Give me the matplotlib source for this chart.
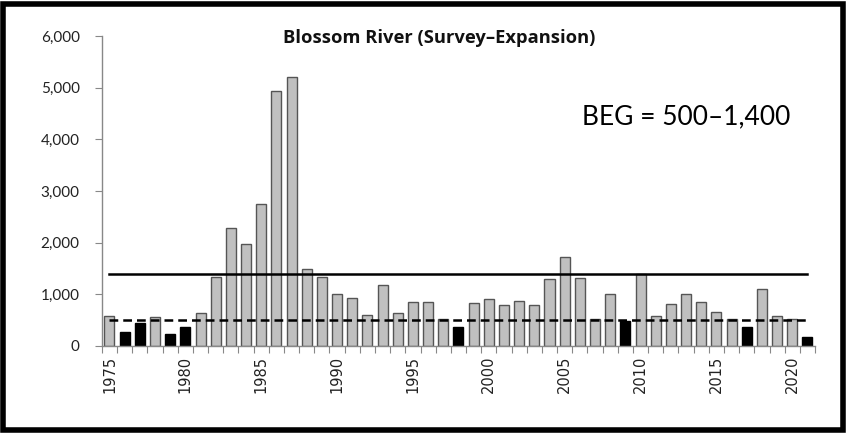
import matplotlib
matplotlib.use('Agg')
import matplotlib.pyplot as plt
from matplotlib.patches import Rectangle

years = list(range(1975, 2022))
counts = [586, 277, 451, 567, 226, 362, 632, 1340, 2282, 1967,
          2752, 4932, 5209, 1495, 1335, 1000, 934, 593, 1180, 632,
          845, 857, 522, 374, 825, 903, 793, 870, 793, 1290,
          1721, 1315, 529, 1000, 490, 1400, 586, 806, 1000, 851,
          652, 529, 361, 1097, 580, 522, 180]
beg_low = 500
beg_high = 1400
title = 'Blossom River (Survey\u2013Expansion)'
beg_text = 'BEG = 500\u20131,400'

fig = plt.figure(figsize=(8.49, 4.33), dpi=100)
ax = fig.add_axes([0.120, 0.201, 0.840, 0.716])

xs = list(range(len(years)))
colors = ['black' if c < beg_low else '#c0c0c0' for c in counts]
edges = ['black' if c < beg_low else '#555555' for c in counts]
ax.bar(xs, counts, width=0.66, color=colors, edgecolor=edges, linewidth=1.0, zorder=2)

ax.plot([xs[0], xs[-1]], [beg_high, beg_high], color='black', lw=1.8, zorder=3)
ax.plot([xs[0], xs[-1]], [beg_low, beg_low], color='black', lw=1.8,
        dashes=(3.5, 2.0), zorder=3)

ax.set_xlim(-0.5, len(years) - 0.5)
ax.set_ylim(0, 6000)
ax.set_yticks(range(0, 6001, 1000))
ax.set_yticklabels(['{:,}'.format(v) for v in range(0, 6001, 1000)],
                   fontname='Lato', fontsize=11, color='#222222')

# major ticks between bars, labels centred on every fifth year
ax.set_xticks([i - 0.5 for i in range(len(years) + 1)])
ax.set_xticklabels([])
lab_idx = [i for i, y in enumerate(years) if y % 5 == 0]
ax.set_xticks(lab_idx, minor=True)
ax.set_xticklabels([str(years[i]) for i in lab_idx], minor=True, rotation=90,
                   fontname='DejaVu Sans', fontsize=10.5, color='#222222')
ax.tick_params(axis='x', which='minor', length=0, pad=7)
ax.tick_params(axis='x', which='major', length=5, color='#888888')
ax.tick_params(axis='y', length=5, color='#888888', pad=11)

for s in ['top', 'right']:
    ax.spines[s].set_visible(False)
for s in ['left', 'bottom']:
    ax.spines[s].set_color('#888888')
    ax.spines[s].set_linewidth(1.0)

ax.text(0.473, 0.994, title, transform=ax.transAxes, ha='center', va='center',
        fontname='Open Sans', fontweight='bold', fontsize=13.2, color='#111111')
ax.text(0.82, 0.738, beg_text, transform=ax.transAxes, ha='center', va='center',
        fontname='Lato', fontsize=19, color='black')

fig.patches.append(Rectangle((0.0035, 0.006), 0.990, 0.985, transform=fig.transFigure,
                             fill=False, edgecolor='black', linewidth=4))

fig.savefig('out.png', dpi=100)
